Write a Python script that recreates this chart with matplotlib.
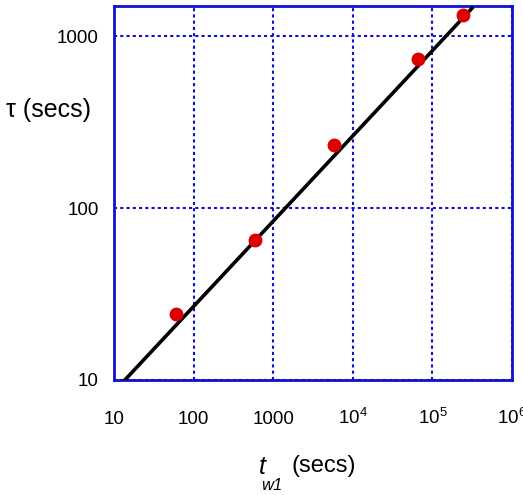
import matplotlib
matplotlib.use("Agg")
import matplotlib.pyplot as plt
from matplotlib.ticker import FixedLocator, NullLocator

plt.rcParams['font.family'] = ['Liberation Sans', 'DejaVu Sans']
plt.rcParams['mathtext.fontset'] = 'custom'
plt.rcParams['mathtext.rm'] = 'Liberation Sans'
plt.rcParams['mathtext.it'] = 'Liberation Sans:italic'

tw = [60, 590, 5800, 66000, 242000]
tau = [24.2, 65, 232, 735, 1325]
fit_x = [13.7, 314000]
fit_y = [10, 1455]

xticks = [10, 100, 1000, 1e4, 1e5, 1e6]
xticklabels = ['10', '100', '1000', r'10$^{4}$', r'10$^{5}$', r'10$^{6}$']
yticks = [10, 100, 1000]
yticklabels = ['10', '100', '1000']

fig = plt.figure(figsize=(5.23, 4.95), dpi=100)
ax = fig.add_axes([114/523, 1-380/495, (512-114)/523, (380-6)/495])
ax.set_xscale('log')
ax.set_yscale('log')
ax.set_xlim(10, 1e6)
ax.set_ylim(10, 1500)

blue = '#1010d0'
ax.grid(True, which='major', color=blue, linestyle=(0, (1.5, 1.5)), linewidth=1.5)
ax.set_axisbelow(True)
for s in ax.spines.values():
    s.set_color(blue)
    s.set_linewidth(2)

ax.plot(fit_x, fit_y, color='black', linewidth=2.6, zorder=3)
ax.plot(tw, tau, 'o', color='#dd0000', markersize=10, markeredgewidth=0, zorder=4)

ax.xaxis.set_major_locator(FixedLocator(xticks))
ax.xaxis.set_minor_locator(NullLocator())
ax.yaxis.set_major_locator(FixedLocator(yticks))
ax.yaxis.set_minor_locator(NullLocator())
ax.set_xticklabels(xticklabels, fontsize=13.5)
ax.set_yticklabels(yticklabels, fontsize=13.5)
ax.tick_params(axis='x', length=0, pad=32)
ax.tick_params(axis='y', length=0, pad=11)
for lab in ax.get_xticklabels():
    lab.set_verticalalignment('baseline')

fig.text(6/523, 1-110/495, 'τ (secs)', fontsize=18, ha='left', va='center')
fig.text(262/523, 1-467/495, 't', fontsize=18, style='italic', ha='center', va='center')
fig.text(272/523, 1-486/495, 'w1', fontsize=12, style='italic', ha='center', va='center')
fig.text(324/523, 1-466/495, '(secs)', fontsize=17, ha='center', va='center')

fig.savefig('out.png', dpi=100)
